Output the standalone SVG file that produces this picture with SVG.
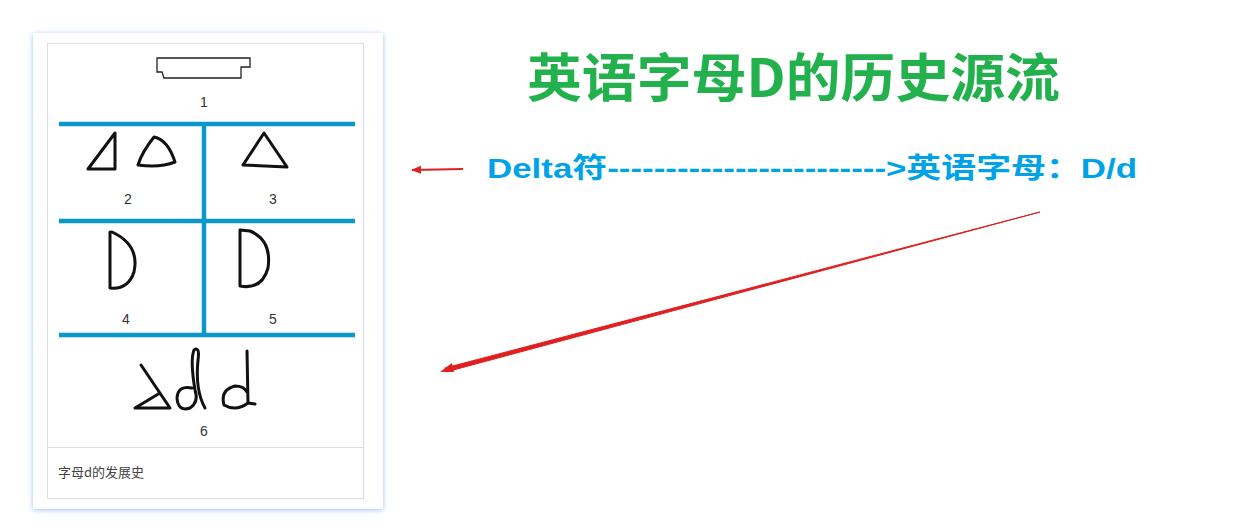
<svg xmlns="http://www.w3.org/2000/svg" width="1260" height="531" viewBox="0 0 1260 531">
<style>
.num{font-family:"Liberation Sans",Arial,sans-serif;font-size:14px;fill:#333;text-anchor:middle}
.g{fill:none;stroke:#111;stroke-width:3;stroke-linejoin:round;stroke-linecap:round}
.bl{stroke:#0a98c8;stroke-width:4.5}
</style>
<defs>
<filter id="glow" x="-10%" y="-10%" width="120%" height="120%"><feDropShadow dx="0" dy="1" stdDeviation="2.5" flood-color="#7fb6ff" flood-opacity="0.8"/></filter>
<marker id="ah" viewBox="0 0 10 10" refX="9" refY="5" markerWidth="5" markerHeight="5" orient="auto"><path d="M0,1 L10,5 L0,9 z" fill="#e02020"/></marker>
</defs>
<rect width="1260" height="531" fill="#fff"/>
<g id="card">
<rect x="33" y="33" width="350" height="476" fill="#fff" filter="url(#glow)"/>
<rect x="47.5" y="43.5" width="316" height="455" fill="none" stroke="#ddd"/>
<line x1="48" y1="447.5" x2="363" y2="447.5" stroke="#ddd"/>
<line class="bl" x1="59" y1="124" x2="355" y2="124"/>
<line class="bl" x1="59" y1="221" x2="355" y2="221"/>
<line class="bl" x1="59" y1="335" x2="355" y2="335"/>
<line class="bl" x1="204" y1="124" x2="204" y2="335"/>
<path d="M157,58 H250 V67 H241 V78 H164 L162,72 H157 z" fill="none" stroke="#222" stroke-width="1.3"/>
<text class="num" x="204" y="107">1</text>
<path class="g" d="M88,169 L115,133 L115,169 z"/>
<path class="g" d="M138,165 Q142,152 154,137 Q168,140 175,162 Q160,168 138,165 z"/>
<path class="g" d="M243,165 L264,133 L287,167 z"/>
<text class="num" x="128" y="204">2</text>
<text class="num" x="273" y="204">3</text>
<path class="g" d="M110,232 V288 Q128,290 134,272 Q140,245 112,232"/>
<path class="g" d="M240,230 V286 Q262,290 268,268 Q272,240 250,231 z"/>
<text class="num" x="126" y="324">4</text>
<text class="num" x="273" y="324">5</text>
<path class="g" d="M141,365 L170,408 H135 L160,393"/>
<path class="g" d="M192,388 Q178,385 177,398 Q178,412 190,408 Q199,402 195,390 Q190,360 194,350 Q200,346 198,360 Q195,390 205,408"/>
<path class="g" d="M247,351 L248,403 Q236,412 224,405 Q220,390 235,386 Q244,386 247,392 M248,403 L255,404"/>
<text class="num" x="204" y="436">6</text>
<text x="58" y="477" font-family="'Noto Sans CJK SC',sans-serif" font-size="13" fill="#444">字母d的发展史</text>
</g>
<g id="title"><text x="527" y="97" textLength="533" lengthAdjust="spacingAndGlyphs" font-family="'Noto Sans CJK SC',sans-serif" font-weight="bold" font-size="52" fill="#22b14c">英语字母D的历史源流</text></g>
<g id="label"><text x="487" y="178" textLength="650" lengthAdjust="spacingAndGlyphs" font-family="'Liberation Sans','Noto Sans CJK SC',sans-serif" font-weight="bold" font-size="28" fill="#00a2e8">Delta符------------------------&gt;英语字母：D/d</text></g>
<g id="connectors">
<line x1="463" y1="169" x2="412" y2="170" stroke="#e02020" stroke-width="2" marker-end="url(#ah)"/>
<path d="M1040,212 L445,368 L446,372 z" fill="#e02020" stroke="#e02020" stroke-width="1"/>
<path d="M440,372 L452,363 L454,372 z" fill="#e02020"/>
</g>
</svg>
